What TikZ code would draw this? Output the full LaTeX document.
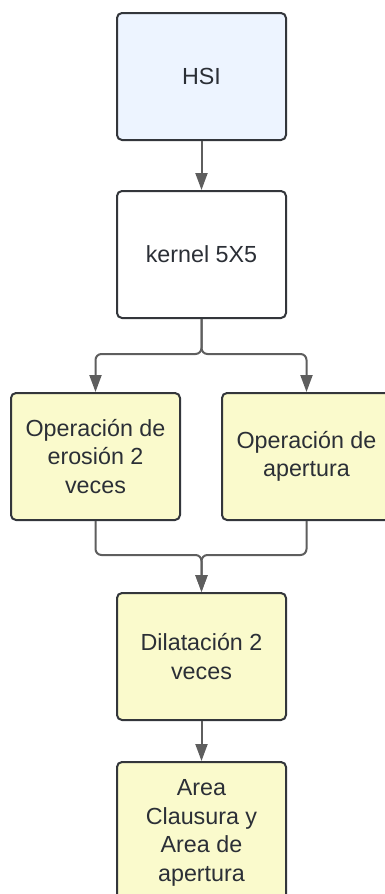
\documentclass[tikz,border=0pt]{standalone}
\usepackage{fontspec}
\setmainfont{Liberation Sans}
\usetikzlibrary{arrows.meta}
\definecolor{edge}{HTML}{33363B}
\definecolor{txt}{HTML}{2B2F36}
\definecolor{conncol}{HTML}{5E5E5E}
\definecolor{bluefill}{HTML}{EDF4FF}
\definecolor{yelfill}{HTML}{FAFACC}
\tikzset{
  box/.style={draw=edge, line width=2pt, rounded corners=5pt, minimum width=169pt, minimum height=127pt,
    inner sep=0pt, align=center, text=txt, font=\fontsize{23.3}{28.5}\selectfont},
  bluebox/.style={box, fill=bluefill},
  yelbox/.style={box, fill=yelfill},
  whitebox/.style={box, fill=white},
  conn/.style={draw=conncol, line width=2pt, rounded corners=6pt, -{Triangle[length=17pt,width=12pt]}}
}
\begin{document}
\begin{tikzpicture}[x=1pt,y=-1pt]
\useasboundingbox (0,0) rectangle (385,894);
\node[bluebox] (hsi) at (201.5,76.5) {HSI};
\node[whitebox] (kernel) at (201.5,254.5) {kernel 5X5};
\node[yelbox] (opl) at (95.5,456.5) {Operación de\\erosión 2\\veces};
\node[yelbox] (opr) at (306.5,456.5) {Operación de\\apertura};
\node[yelbox] (dil) at (201.5,656.5) {Dilatación 2\\veces};
\node[yelbox, minimum height=142pt] (area) at (201.5,833) {Area\\Clausura y\\Area de\\apertura};
\coordinate (sj) at (201.5,354);
\coordinate (mj) at (201.5,555);
\draw[conn] (hsi.south) -- (kernel.north);
\draw[conn] (kernel.south) -- (sj) -| (opl.north);
\draw[conn] (kernel.south) -- (sj) -| (opr.north);
\draw[conn] (opl.south) |- (mj) -- (dil.north);
\draw[conn] (opr.south) |- (mj) -- (dil.north);
\draw[conn] (dil.south) -- (area.north);
\end{tikzpicture}
\end{document}
